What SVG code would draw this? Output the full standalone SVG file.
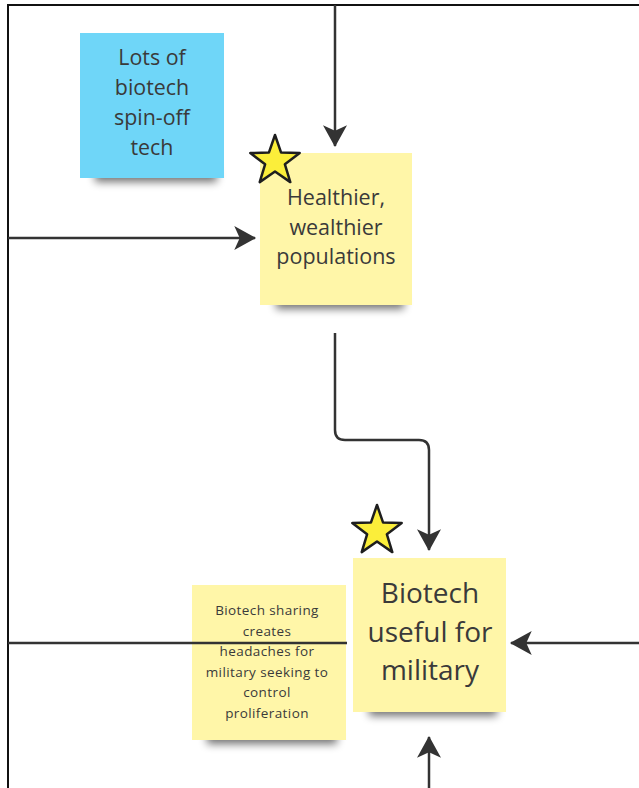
<svg xmlns="http://www.w3.org/2000/svg" width="639" height="788" viewBox="0 0 639 788">
<style>
.note-y{fill:#fff6a8}
.note-b{fill:#6fd6f8}
.shadow{fill:#000;opacity:0.55;filter:url(#blur)}
.txt{font-family:"Open Sans","Noto Sans","DejaVu Sans",sans-serif;fill:#3a3a3a;text-anchor:middle}
.star{fill:#fbee3a;stroke:#1e1e1e;stroke-width:2.5;stroke-linejoin:round}
.conn{fill:none;stroke:#333;stroke-width:2.5}
</style>
<defs>
<filter id="blur" x="-20%" y="-100%" width="140%" height="300%"><feGaussianBlur stdDeviation="4"/></filter>
<marker id="ah" markerUnits="userSpaceOnUse" markerWidth="24" markerHeight="24" viewBox="0 0 20 22" refX="19" refY="11" orient="auto">
<path d="M0,0 L20,11 L0,22 L5,11 Z" fill="#333"/>
</marker>
</defs>
<rect width="639" height="788" fill="#fff"/>
<path d="M8,788 L8,5 L639,5" fill="none" stroke="#111" stroke-width="2"/>

<g id="node-spinoff">
<rect class="shadow" x="95" y="168" width="122" height="14"/>
<rect class="note-b" x="80" y="33" width="144" height="145"/>
<text class="txt" font-size="21.4" x="152" y="65">Lots of</text>
<text class="txt" font-size="21.4" x="152" y="95">biotech</text>
<text class="txt" font-size="21.4" x="152" y="125">spin-off</text>
<text class="txt" font-size="21.4" x="152" y="155">tech</text>
</g>

<g id="node-healthier">
<rect class="shadow" x="276" y="295" width="128" height="14"/>
<rect class="note-y" x="260" y="153" width="152" height="152"/>
<text class="txt" font-size="21.5" x="336" y="205">Healthier,</text>
<text class="txt" font-size="21.5" x="336" y="235">wealthier</text>
<text class="txt" font-size="21.5" x="336" y="264">populations</text>
<polygon class="star" points="275,135 281.1,152.6 299.7,153 284.9,164.3 290.3,182.1 275,171.5 259.7,182.1 265.1,164.3 250.3,153 268.9,152.6"/>
</g>

<g id="node-military">
<rect class="shadow" x="369" y="702" width="128" height="14"/>
<rect class="note-y" x="353" y="558" width="153" height="154"/>
<text class="txt" font-size="28" x="430" y="603">Biotech</text>
<text class="txt" font-size="28" x="430" y="642">useful for</text>
<text class="txt" font-size="28" x="430" y="680">military</text>
<polygon class="star" points="377,505 383.1,522.6 401.7,523 386.9,534.3 392.3,552.1 377,541.5 361.7,552.1 367.1,534.3 352.3,523 370.9,522.6"/>
</g>

<g id="node-sharing">
<rect class="shadow" x="207" y="730" width="130" height="14"/>
<rect class="note-y" x="192" y="585" width="154" height="155"/>
<text class="txt" font-size="13.5" letter-spacing="0.4" x="267" y="615">Biotech sharing</text>
<text class="txt" font-size="13.5" letter-spacing="0.4" x="267" y="635.5">creates</text>
<text class="txt" font-size="13.5" letter-spacing="0.4" x="267" y="656">headaches for</text>
<text class="txt" font-size="13.5" letter-spacing="0.4" x="267" y="676.5">military seeking to</text>
<text class="txt" font-size="13.5" letter-spacing="0.4" x="267" y="697">control</text>
<text class="txt" font-size="13.5" letter-spacing="0.4" x="267" y="717.5">proliferation</text>
</g>

<g id="connectors">
<path class="conn" d="M335,5 L335,146" marker-end="url(#ah)"/>
<path class="conn" d="M8,238 L255,238" marker-end="url(#ah)"/>
<path class="conn" d="M335,333 L335,430 Q335,440 345,440 L419,440 Q429,440 429,450 L429,550" marker-end="url(#ah)"/>
<path class="conn" d="M8,643 L347,643"/>
<path class="conn" d="M639,643 L511,643" marker-end="url(#ah)"/>
<path class="conn" d="M429,788 L429,737" marker-end="url(#ah)"/>
</g>
</svg>
